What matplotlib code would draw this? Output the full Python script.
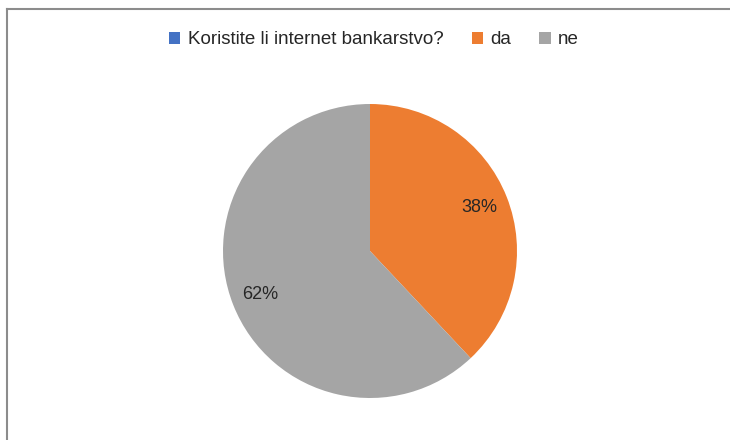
import matplotlib.pyplot as plt
from matplotlib.lines import Line2D
from matplotlib.patches import Patch

# Series names as they appear in the legend (the header row got picked up as a series)
categories = ['Koristite li internet bankarstvo?', 'da', 'ne']
values = [0, 38, 62]
colors = ['#4472C4', '#ED7D31', '#A5A5A5']

plt.rcParams['font.family'] = ['Liberation Sans', 'DejaVu Sans']

fig = plt.figure(figsize=(7.3, 4.4), dpi=100)

# Chart area frame (runs off the right and bottom edge)
fig.add_artist(Line2D([7 / 730, 7 / 730], [0, 1 - 9 / 440], color='#8c8c8c', lw=1.5))
fig.add_artist(Line2D([7 / 730, 1], [1 - 9 / 440, 1 - 9 / 440], color='#8c8c8c', lw=1.5))

# Pie centered at (370, 251) px, radius ~147 px
cx, cy, r = 370 / 730, 1 - 251 / 440, 147
ax = fig.add_axes([cx - r / 730, cy - r / 440, 2 * r / 730, 2 * r / 440])


def pct_label(p):
    return f'{p:.0f}%' if p > 0.5 else ''


wedges, texts, autotexts = ax.pie(
    values, colors=colors, startangle=90, counterclock=False,
    autopct=pct_label, pctdistance=0.8,
    wedgeprops=dict(linewidth=0),
    textprops=dict(fontsize=13, color='#262626'))
ax.set_xlim(-1, 1)
ax.set_ylim(-1, 1)
ax.set_aspect('equal')

# Legend across the top
handles = [Patch(facecolor=c, edgecolor='none') for c in colors]
fig.legend(handles, categories, loc='center', bbox_to_anchor=(374 / 730, 1 - 40 / 440),
           ncol=3, frameon=False, fontsize=13.5, handlelength=0.6, handleheight=0.6,
           handletextpad=0.4, columnspacing=1.5, labelcolor='#262626')

fig.savefig('out.png', dpi=100)
